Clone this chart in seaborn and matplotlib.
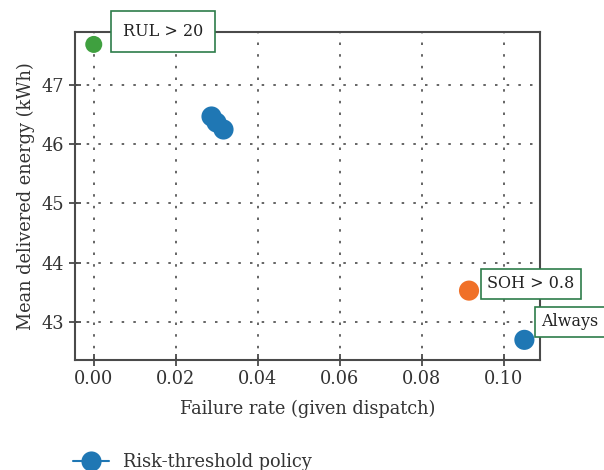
import numpy as np
import pandas as pd
import matplotlib
matplotlib.use("Agg")
import matplotlib.pyplot as plt
import seaborn as sns

# risk-threshold policy sweep (cluster) plus three baseline policies
risk_fail = [0.0285, 0.0297, 0.0315]
risk_energy = [46.48, 46.37, 46.26]

base_names = ["Always", "SOH > 0.8", "RUL > 20"]
base_fail = [0.105, 0.0915, 0.0]
base_energy = [42.70, 43.53, 47.68]
base_colors = ["#1f77b4", "#f07028", "#3fa03f"]
base_sizes = [210, 210, 150]

x_ticks = [0.00, 0.02, 0.04, 0.06, 0.08, 0.10]
y_ticks = [43, 44, 45, 46, 47]

sns.set_style("ticks")
plt.rcParams['font.family'] = ['DejaVu Serif']
plt.rcParams['font.size'] = 12.8

fig = plt.figure(figsize=(6.04, 4.70), dpi=100)
ax = fig.add_axes([0.124, 0.234, 0.77, 0.698])

risk = pd.DataFrame({"fail": risk_fail, "energy": risk_energy})
sns.lineplot(data=risk, x="fail", y="energy", sort=False, marker="o",
             markersize=14.5, markeredgewidth=0, color="#1f77b4", lw=1.5,
             label="Risk-threshold policy", ax=ax)

for name, fx, ey, c, s in zip(base_names, base_fail, base_energy, base_colors, base_sizes):
    sns.scatterplot(x=[fx], y=[ey], color=c, s=s, edgecolor="none", ax=ax, zorder=3)

h, l = ax.get_legend_handles_labels()
if ax.get_legend() is not None:
    ax.get_legend().remove()

# labels next to the baseline points (offset in points, box padding)
offsets = {"Always": (12, 13), "SOH > 0.8": (13, 5), "RUL > 20": (21, 9.5)}
pads = {"Always": 0.4, "SOH > 0.8": 0.4, "RUL > 20": 0.75}
for name, fx, ey in zip(base_names, base_fail, base_energy):
    ax.annotate(name, (fx, ey), xytext=offsets[name], textcoords="offset points",
                ha="left", va="center", fontsize=11.5, color="#222222", zorder=5,
                bbox=dict(boxstyle=f"square,pad={pads[name]}", fc="white",
                          ec="#2e7d4a", lw=1.2),
                annotation_clip=False)

ax.set_xlim(-0.0046, 0.1088)
ax.set_ylim(42.36, 47.89)
ax.set_xticks(x_ticks)
ax.set_xticklabels([f"{t:.2f}" for t in x_ticks])
ax.set_yticks(y_ticks)
ax.grid(True, linestyle=(0, (1.5, 5.5)), color="#4a4a4a", lw=1.2)
ax.set_axisbelow(True)
for sp in ax.spines.values():
    sp.set_color("#4a4a4a")
    sp.set_linewidth(1.5)
ax.tick_params(direction="inout", length=8, width=1.3, color="#4a4a4a",
               labelcolor="#333333", labelsize=12.8)
ax.set_xlabel("Failure rate (given dispatch)", color="#333333", labelpad=8)
ax.set_ylabel("Mean delivered energy (kWh)", color="#333333", labelpad=5)

fig.legend(h[:1], l[:1], loc="center left", bbox_to_anchor=(0.095, 0.017),
           frameon=False, fontsize=12.8, handlelength=2.0, labelcolor="#333333")

fig.savefig("out.png", dpi=100)
